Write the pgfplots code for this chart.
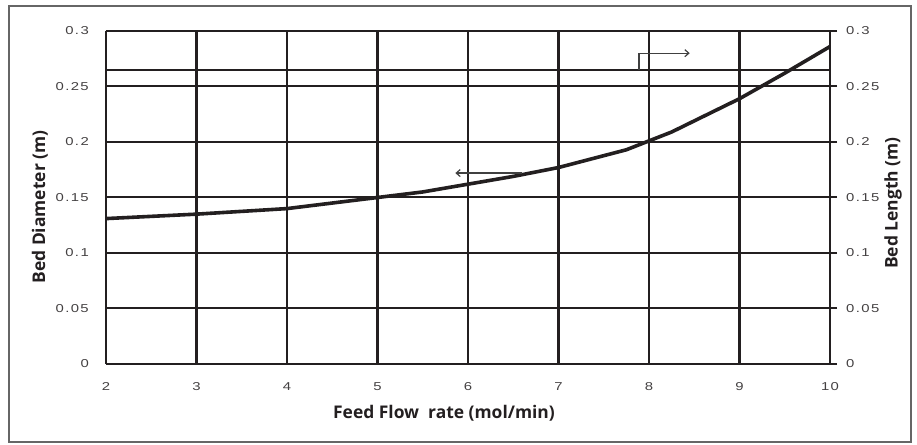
\documentclass[border=0pt]{standalone}
\usepackage{fontspec}
\setmainfont{Liberation Sans}
\newfontfamily\tickfont[LetterSpace=12, FakeStretch=1.3]{Liberation Sans}
\newfontfamily\labfont{Open Sans}
\usepackage{pgfplots}
\pgfplotsset{compat=1.18}
\usetikzlibrary{arrows.meta}
\definecolor{ink}{HTML}{231F20}
\newcommand\tickfnt{\tickfont\fontsize{11.5}{13}\selectfont}
\newcommand\labfnt{\labfont\bfseries\fontsize{17.5}{20}\selectfont}
\begin{document}
\begin{tikzpicture}[x=1bp,y=1bp]
\useasboundingbox (-106,-81) rectangle (811,364);
\draw[black!60, line width=1.6bp] (-97,-78) rectangle (805,358);
\begin{axis}[
  at={(0,0)}, anchor=south west, scale only axis,
  width=724bp, height=333bp,
  xmin=2, xmax=10, ymin=0, ymax=0.3,
  xtick={2,3,4,5,6,7,8,9,10},
  xticklabels={2,3,4,5,6,7,8,9,10},
  ytick={0,0.05,0.1,0.15,0.2,0.25,0.3},
  yticklabels={0,0.05,0.1,0.15,0.2,0.25,0.3},
  axis y line*=left, axis x line*=bottom,
  major tick length=0pt,
  xmajorgrids, ymajorgrids,
  x grid style={ink, line width=2.7bp},
  y grid style={ink, line width=2bp},
  axis line style={ink, line width=2.7bp},
  tick label style={font=\tickfnt, text=ink!85, inner sep=0pt},
  yticklabel style={anchor=east, xshift=-17bp},
  xticklabel style={anchor=base, yshift=-27bp},
  clip=true,
]
\addplot[ink, line width=2.4bp] coordinates {(2,0.3) (10,0.3)};
\addplot[ink, line width=2.7bp] coordinates {(10,0) (10,0.3)};
\addplot[ink, line width=2.6bp] coordinates {(2,0.265) (10,0.265)};
\addplot[ink, line width=3.6bp, line join=round] coordinates {
(2,0.131) (3,0.135) (4,0.140) (5,0.150) (5.5,0.155) (6,0.162) (6.5,0.169)
(7,0.177) (7.75,0.193) (8,0.201) (8.25,0.209) (9,0.239) (9.5,0.262) (10,0.286)};
\addplot[black!75, line width=1.2bp, -{Straight Barb[length=4bp,width=7bp]}] coordinates {(6.6,0.172) (5.86,0.172)};
\addplot[black!75, line width=1.2bp, -{Straight Barb[length=4bp,width=7bp]}] coordinates {(7.89,0.265) (7.89,0.280) (8.45,0.280)};
\end{axis}
\begin{axis}[
  at={(0,0)}, anchor=south west, scale only axis,
  width=724bp, height=333bp,
  xmin=2, xmax=10, ymin=0, ymax=0.3,
  axis x line=none, axis y line*=right,
  ytick={0,0.05,0.1,0.15,0.2,0.25,0.3},
  yticklabels={0,0.05,0.1,0.15,0.2,0.25,0.3},
  tick align=outside, major tick length=7bp,
  ytick style={ink, line width=2bp},
  axis line style={ink, line width=2.7bp},
  tick label style={font=\tickfnt, text=ink!85, inner sep=0pt},
  yticklabel style={anchor=west, xshift=9bp},
]
\end{axis}
\node[font=\labfnt, text=ink, rotate=90] at (-66,157) {Bed Diameter (m)};
\node[font=\labfnt, text=ink, rotate=90] at (787,161) {Bed Length (m)};
\node[font=\labfnt, text=ink] at (338,-49) {Feed Flow\ \ rate (mol/min)};
\end{tikzpicture}
\end{document}
